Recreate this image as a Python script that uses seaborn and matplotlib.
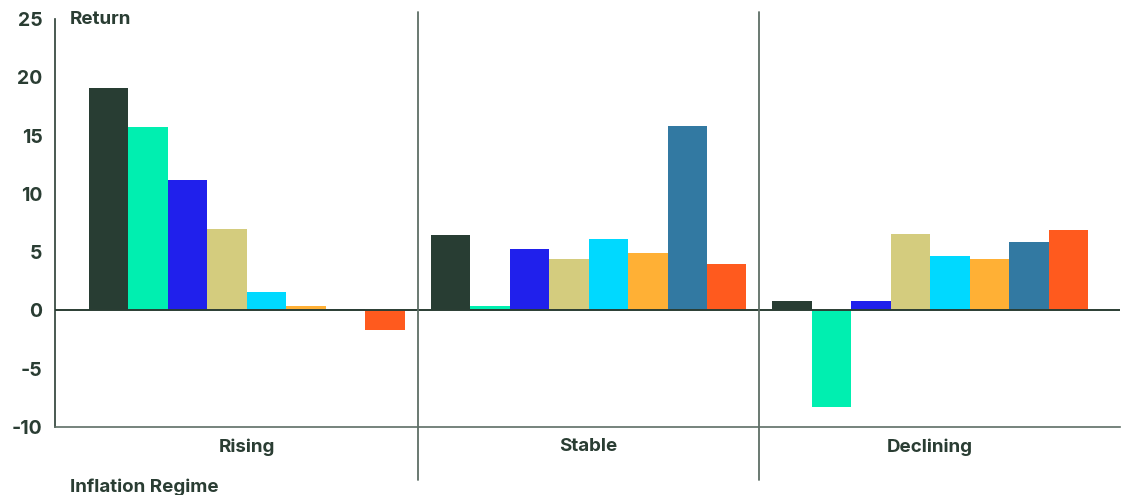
import matplotlib
matplotlib.use("Agg")
import matplotlib.pyplot as plt
import seaborn as sns
import pandas as pd

regimes = ["Rising", "Stable", "Declining"]
series = ["Series 1", "Series 2", "Series 3", "Series 4",
          "Series 5", "Series 6", "Series 7", "Series 8"]
rising = [19.1, 15.7, 11.2, 7.0, 1.6, 0.35, 0.15, -1.7]
stable = [6.45, 0.35, 5.3, 4.45, 6.1, 4.9, 15.8, 3.95]
declining = [0.8, -8.3, 0.8, 6.55, 4.65, 4.45, 5.85, 6.9]
colors = ["#283d33", "#00efb0", "#2020ec", "#d4cc7e",
          "#00d9ff", "#ffb035", "#3279a2", "#ff5a1e"]
yticks = [-10, -5, 0, 5, 10, 15, 20, 25]

rows = []
for reg, vals in zip(regimes, [rising, stable, declining]):
    for s, v in zip(series, vals):
        rows.append({"Regime": reg, "Series": s, "Return": v})
df = pd.DataFrame(rows)

sns.set_theme(style="white")
plt.rcParams["font.family"] = ["Inter", "DejaVu Sans"]
dark = "#2a3d33"
grey = "#5e6e66"

fig = plt.figure(figsize=(11.28, 4.95), dpi=100)
ax = fig.add_axes([55 / 1128, (495 - 427) / 495, (1120 - 55) / 1128, (427 - 19) / 495])

sns.barplot(data=df, x="Regime", y="Return", hue="Series", order=regimes,
            hue_order=series, palette=colors, width=0.925, gap=0,
            saturation=1, linewidth=0, errorbar=None, legend=False, ax=ax)

ax.set_xlim(-0.562, 2.556)
ax.set_ylim(-10, 25)
ax.set_yticks(yticks)
ax.set_yticklabels([str(t) for t in yticks], fontsize=14, fontweight="bold", color=dark)
ax.set_xticks(range(len(regimes)))
ax.set_xticklabels(regimes, fontsize=13.5, fontweight="bold", color=dark)
ax.tick_params(axis="y", direction="in", length=5, width=1.2, color=dark, pad=9)
ax.tick_params(axis="x", length=0, pad=8)
ax.set_xlabel("")
ax.set_ylabel("")

for side in ["top", "right"]:
    ax.spines[side].set_visible(False)
ax.spines["left"].set_color(dark)
ax.spines["left"].set_linewidth(1.2)
ax.spines["bottom"].set_color(grey)
ax.spines["bottom"].set_linewidth(1.2)

ax.axhline(0, color=dark, lw=1.4, zorder=5)
for xpos in [0.5, 1.5]:
    ax.axvline(xpos, ymin=-0.13, ymax=1.017, color=grey, lw=1.3,
               clip_on=False, zorder=5)

ax.text(0.014, 1.0, "Return", transform=ax.transAxes, ha="left", va="center",
        fontsize=13.5, fontweight="bold", color=dark)
fig.text(70 / 1128, 8 / 495, "Inflation Regime", ha="left", va="center",
         fontsize=13.5, fontweight="bold", color=dark)

fig.savefig("out.png", dpi=100)
